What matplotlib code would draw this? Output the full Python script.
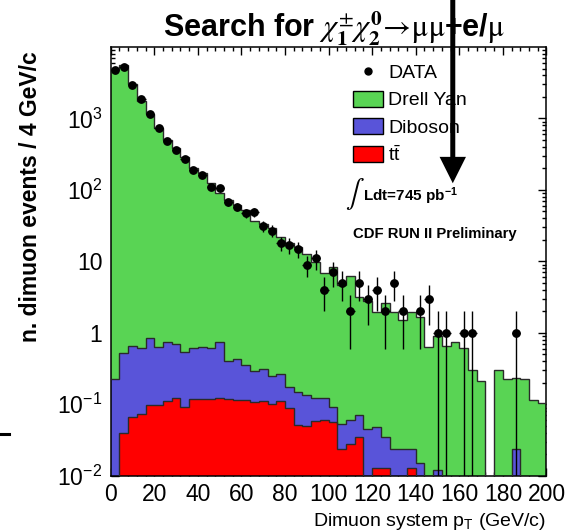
import numpy as np
import matplotlib
matplotlib.use('Agg')
import matplotlib.pyplot as plt
from matplotlib.patches import Patch
from matplotlib.lines import Line2D
from matplotlib.ticker import MultipleLocator, LogLocator, FixedLocator, FuncFormatter, NullFormatter

# dimuon pT spectrum, 4 GeV/c bins from 0 to 200
bin_width = 4
pt_edges = np.arange(0, 200 + bin_width, bin_width)

data_counts = [4800, 5200, 2940, 1870, 1140, 728, 483, 365, 271, 188,
               162, 109, 105, 67, 58, 48, 49, 31, 27, 18,
               17, 15, 9, 11, 4, 7, 5, 2, 5, 3,
               4, 2, 5, 2, 0, 2, 3, 1, 1, 0,
               1, 1, 0, 0, 0, 0, 1, 0, 0, 0]

drell_yan = [5000, 5600, 3000, 1750, 1140, 742, 499, 381, 291, 204,
             170, 123, 91, 71.6, 60.6, 51.6, 36.4, 32.7, 28.7, 21.4,
             17.7, 15.5, 12.5, 9.8, 6.8, 8.2, 4.65, 6.14, 3.13, 2.77,
             1.92, 2.56, 1.95, 1.49, 1.95, 1.64, 0.63, 0.88, 0.65, 0.75,
             0.62, 0.30, 0.214, 0, 0.30, 0.225, 0.206, 0.225, 0.115, 0.105]

diboson = [0.223, 0.49, 0.58, 0.55, 0.76, 0.53, 0.63, 0.58, 0.44, 0.49,
           0.51, 0.49, 0.61, 0.28, 0.31, 0.24, 0.18, 0.20, 0.15, 0.15,
           0.088, 0.098, 0.085, 0.063, 0.061, 0.035, 0.029, 0.032, 0.036, 0.045,
           0.035, 0.022, 0.024, 0.024, 0.011, 0.015, 0, 0.012, 0, 0,
           0, 0, 0, 0, 0, 0, 0.024, 0, 0, 0]

ttbar = [0, 0.040, 0.066, 0.072, 0.097, 0.097, 0.111, 0.124, 0.092, 0.120,
         0.118, 0.119, 0.124, 0.120, 0.116, 0.113, 0.109, 0.110, 0.100, 0.111,
         0.088, 0.052, 0.049, 0.058, 0.060, 0.056, 0.024, 0.028, 0.035, 0,
         0.013, 0.013, 0, 0, 0.013, 0, 0, 0, 0, 0,
         0, 0, 0, 0, 0, 0, 0, 0, 0, 0]

legend_labels = ['DATA', 'Drell Yan', 'Diboson', r'$\mathrm{t}\bar{\mathrm{t}}$']
y_decades = [1e-2, 1e-1, 1, 10, 1e2, 1e3]
cut_pt = 157

c_green = '#59d454'
c_blue = '#5954d9'
c_red = '#ff0000'

plt.rcParams['font.family'] = ['Liberation Sans', 'DejaVu Sans']
plt.rcParams['mathtext.fontset'] = 'custom'
plt.rcParams['mathtext.rm'] = 'Liberation Sans'
plt.rcParams['mathtext.it'] = 'Liberation Sans:italic'
plt.rcParams['mathtext.bf'] = 'Liberation Sans:bold'

fig = plt.figure(figsize=(5.67, 5.32), dpi=100)
ax = fig.add_axes([0.1952, 0.1058, 0.7686, 0.8058])

floor = 1e-3
top_red = np.array(ttbar)
top_blue = top_red + np.array(diboson)
top_green = top_blue + np.array(drell_yan)

# stacked backgrounds, drawn back to front like a THStack
for top, col in [(top_green, c_green), (top_blue, c_blue), (top_red, c_red)]:
    vals = np.maximum(top, floor)
    ax.stairs(vals, pt_edges, baseline=floor, fill=True, color=col, zorder=2)
    ax.stairs(vals, pt_edges, baseline=None, color='#2a2a2a', lw=1.0, zorder=3)

# data points with Poisson errors
counts = np.array(data_counts, dtype=float)
centers = 0.5 * (pt_edges[:-1] + pt_edges[1:])
m = counts > 0
err = np.sqrt(counts[m])
err_lo = np.minimum(err, counts[m] - 1e-4)
ax.errorbar(centers[m], counts[m], yerr=[err_lo, err], xerr=bin_width / 2,
            fmt='o', color='k', ms=5.3, elinewidth=1.0, capsize=0, zorder=5)

ax.set_xlim(0, 200)
ax.set_yscale('log')
ax.set_ylim(1e-2, 1e4)

ax.xaxis.set_major_locator(MultipleLocator(20))
ax.xaxis.set_minor_locator(MultipleLocator(4))
ax.yaxis.set_major_locator(FixedLocator(y_decades))
ax.yaxis.set_minor_locator(LogLocator(base=10, subs=np.arange(2, 10)))
ax.yaxis.set_minor_formatter(NullFormatter())


def log_label(v, pos):
    e = int(round(np.log10(v)))
    if e == 0:
        return '1'
    if e == 1:
        return '10'
    return r'$10^{%d}$' % e


ax.yaxis.set_major_formatter(FuncFormatter(log_label))
ax.tick_params(which='both', direction='in', top=True, right=True, width=1.0)
ax.tick_params(which='major', length=6, labelsize=16.5)
ax.tick_params(which='minor', length=3)
ax.tick_params(axis='x', pad=5)
ax.tick_params(axis='y', pad=6)
for sp in ax.spines.values():
    sp.set_linewidth(1.1)

handles = [Line2D([], [], ls='none', marker='o', ms=5, color='k'),
           Patch(facecolor=c_green, edgecolor='k', lw=1.0),
           Patch(facecolor=c_blue, edgecolor='k', lw=1.0),
           Patch(facecolor=c_red, edgecolor='k', lw=1.0)]
ax.legend(handles, legend_labels, loc='upper left', bbox_to_anchor=(0.557, 0.962),
          frameon=False, fontsize=14, handlelength=1.5, handleheight=0.9,
          handletextpad=0.3, labelspacing=0.44, borderpad=0, borderaxespad=0)

ax.text(0.5606, 0.658, r'$\int$', transform=ax.transAxes, fontsize=20,
        ha='center', va='center', math_fontfamily='stix')
ax.text(0.579, 0.6415, r'Ldt=745 pb$^{\mathbf{-1}}$', transform=ax.transAxes,
        fontsize=11, fontweight='bold', ha='left', va='baseline')
ax.text(0.555, 0.555, 'CDF RUN II Preliminary', transform=ax.transAxes,
        fontsize=10.7, fontweight='bold', ha='left', va='baseline')

fig.text(0.589, 0.9286,
         r'Search for $\chi^{\pm}_{\mathbf{1}}\chi^{\mathbf{0}}_{\mathbf{2}}\!\rightarrow\!\mathrm{\mu\mu}$+e/$\mathrm{\mu}$',
         fontsize=22, fontweight='bold', ha='center', va='baseline',
         math_fontfamily='stix')
fig.text(0.9638, 0.0115, r'Dimuon system p$_{\mathrm{T}}$ (GeV/c)', fontsize=14,
         ha='right', va='baseline')
fig.text(0.053, 0.63, 'n. dimuon events / 4 GeV/c', rotation=90, fontsize=16.5,
         fontweight='bold', ha='center', va='center')

# signal region cut
ax.annotate('', xy=(cut_pt, 124), xycoords='data',
            xytext=(cut_pt, 1.0), textcoords=('data', 'figure fraction'),
            arrowprops=dict(arrowstyle='simple,head_length=0.95,head_width=0.95,tail_width=0.18',
                            mutation_scale=20, fc='k', ec='none', shrinkA=0, shrinkB=0),
            zorder=10)

fig.add_artist(Line2D([0, 9 / 567], [1 - 433.5 / 532] * 2, lw=2.2, color='k'))

fig.savefig('out.png', dpi=100)
